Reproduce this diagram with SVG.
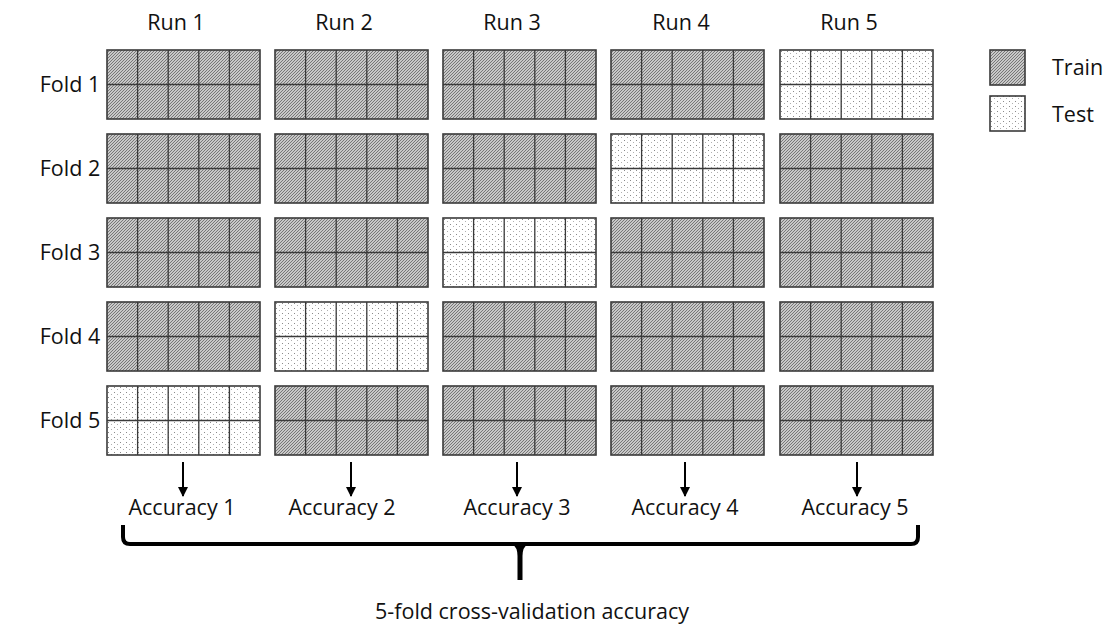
<svg xmlns="http://www.w3.org/2000/svg" xmlns:xlink="http://www.w3.org/1999/xlink" width="1105" height="630" viewBox="0 0 1105 630">
  <defs>
    <style>
      .lbl { font-family: "Open Sans", "Liberation Sans", sans-serif; font-size: 21.5px; fill: #111; }
      .mid { text-anchor: middle; }
      .train { fill: url(#hatch); }
      .test { fill: url(#dots); }
      .frame { fill: none; stroke: #3a3a3a; stroke-width: 1.6; }
      .cell { stroke: #3a3a3a; stroke-width: 1.3; fill: none; }
      .arrow { stroke: #000; stroke-width: 2; fill: none; marker-end: url(#head); }
      .brace { stroke: #000; stroke-width: 4; fill: none; stroke-linejoin: round; }
    </style>
    <!-- dense diagonal hatching for training folds -->
    <pattern id="hatch" patternUnits="userSpaceOnUse" width="3" height="3">
      <rect width="3" height="3" fill="#c8c8c8"/>
      <path d="M-1,1 L1,-1 M0,3 L3,0 M2,4 L4,2" stroke="#777" stroke-width="1"/>
    </pattern>
    <!-- sparse dot stipple for test folds -->
    <pattern id="dots" patternUnits="userSpaceOnUse" width="6" height="5">
      <rect width="6" height="5" fill="#fff"/>
      <rect x="1" y="1" width="1" height="1" fill="#8a8a8a"/>
      <rect x="4" y="3" width="1" height="1" fill="#b0b0b0"/>
    </pattern>
    <marker id="head" viewBox="0 0 10 10" refX="9" refY="5" markerWidth="5" markerHeight="5" orient="auto" markerUnits="strokeWidth">
      <path d="M0,0 L10,5 L0,10 Z" fill="#000"/>
    </marker>
    <!-- 5 x 2 cell grid of one data block -->
    <g id="grid">
      <path class="cell" d="M30.6,0 V69 M61.2,0 V69 M91.8,0 V69 M122.4,0 V69 M0,34.5 H153"/>
      <rect class="frame" x="0" y="0" width="153" height="69"/>
    </g>
  </defs>

  <rect width="1105" height="630" fill="#fff"/>

  <!-- column headings -->
  <g id="run-labels">
    <text class="lbl mid" x="176" y="30">Run 1</text>
    <text class="lbl mid" x="344" y="30">Run 2</text>
    <text class="lbl mid" x="512" y="30">Run 3</text>
    <text class="lbl mid" x="681" y="30">Run 4</text>
    <text class="lbl mid" x="849" y="30">Run 5</text>
  </g>

  <!-- row headings -->
  <g id="fold-labels">
    <text class="lbl mid" x="70" y="92">Fold 1</text>
    <text class="lbl mid" x="70" y="176">Fold 2</text>
    <text class="lbl mid" x="70" y="260">Fold 3</text>
    <text class="lbl mid" x="70" y="344">Fold 4</text>
    <text class="lbl mid" x="70" y="428">Fold 5</text>
  </g>

  <!-- Run 1 -->
  <g id="run1-fold1" transform="translate(107,50)"><rect class="train" width="153" height="69"/><use xlink:href="#grid"/></g>
  <g id="run1-fold2" transform="translate(107,134)"><rect class="train" width="153" height="69"/><use xlink:href="#grid"/></g>
  <g id="run1-fold3" transform="translate(107,218)"><rect class="train" width="153" height="69"/><use xlink:href="#grid"/></g>
  <g id="run1-fold4" transform="translate(107,302)"><rect class="train" width="153" height="69"/><use xlink:href="#grid"/></g>
  <g id="run1-fold5" transform="translate(107,386)"><rect class="test" width="153" height="69"/><use xlink:href="#grid"/></g>

  <!-- Run 2 -->
  <g id="run2-fold1" transform="translate(275,50)"><rect class="train" width="153" height="69"/><use xlink:href="#grid"/></g>
  <g id="run2-fold2" transform="translate(275,134)"><rect class="train" width="153" height="69"/><use xlink:href="#grid"/></g>
  <g id="run2-fold3" transform="translate(275,218)"><rect class="train" width="153" height="69"/><use xlink:href="#grid"/></g>
  <g id="run2-fold4" transform="translate(275,302)"><rect class="test" width="153" height="69"/><use xlink:href="#grid"/></g>
  <g id="run2-fold5" transform="translate(275,386)"><rect class="train" width="153" height="69"/><use xlink:href="#grid"/></g>

  <!-- Run 3 -->
  <g id="run3-fold1" transform="translate(443,50)"><rect class="train" width="153" height="69"/><use xlink:href="#grid"/></g>
  <g id="run3-fold2" transform="translate(443,134)"><rect class="train" width="153" height="69"/><use xlink:href="#grid"/></g>
  <g id="run3-fold3" transform="translate(443,218)"><rect class="test" width="153" height="69"/><use xlink:href="#grid"/></g>
  <g id="run3-fold4" transform="translate(443,302)"><rect class="train" width="153" height="69"/><use xlink:href="#grid"/></g>
  <g id="run3-fold5" transform="translate(443,386)"><rect class="train" width="153" height="69"/><use xlink:href="#grid"/></g>

  <!-- Run 4 -->
  <g id="run4-fold1" transform="translate(611,50)"><rect class="train" width="153" height="69"/><use xlink:href="#grid"/></g>
  <g id="run4-fold2" transform="translate(611,134)"><rect class="test" width="153" height="69"/><use xlink:href="#grid"/></g>
  <g id="run4-fold3" transform="translate(611,218)"><rect class="train" width="153" height="69"/><use xlink:href="#grid"/></g>
  <g id="run4-fold4" transform="translate(611,302)"><rect class="train" width="153" height="69"/><use xlink:href="#grid"/></g>
  <g id="run4-fold5" transform="translate(611,386)"><rect class="train" width="153" height="69"/><use xlink:href="#grid"/></g>

  <!-- Run 5 -->
  <g id="run5-fold1" transform="translate(780,50)"><rect class="test" width="153" height="69"/><use xlink:href="#grid"/></g>
  <g id="run5-fold2" transform="translate(780,134)"><rect class="train" width="153" height="69"/><use xlink:href="#grid"/></g>
  <g id="run5-fold3" transform="translate(780,218)"><rect class="train" width="153" height="69"/><use xlink:href="#grid"/></g>
  <g id="run5-fold4" transform="translate(780,302)"><rect class="train" width="153" height="69"/><use xlink:href="#grid"/></g>
  <g id="run5-fold5" transform="translate(780,386)"><rect class="train" width="153" height="69"/><use xlink:href="#grid"/></g>

  <!-- legend -->
  <g id="legend-train">
    <rect class="train" x="990" y="50" width="35" height="35"/>
    <rect class="frame" x="990" y="50" width="35" height="35"/>
    <text class="lbl" x="1052" y="75">Train</text>
  </g>
  <g id="legend-test">
    <rect class="test" x="990" y="96" width="35" height="35"/>
    <rect class="frame" x="990" y="96" width="35" height="35"/>
    <text class="lbl" x="1052" y="122">Test</text>
  </g>

  <!-- per-run accuracies -->
  <g id="accuracy-1"><text class="lbl mid" x="182" y="515">Accuracy 1</text></g>
  <g id="accuracy-2"><text class="lbl mid" x="342" y="515">Accuracy 2</text></g>
  <g id="accuracy-3"><text class="lbl mid" x="517" y="515">Accuracy 3</text></g>
  <g id="accuracy-4"><text class="lbl mid" x="685" y="515">Accuracy 4</text></g>
  <g id="accuracy-5"><text class="lbl mid" x="855" y="515">Accuracy 5</text></g>

  <g id="result"><text class="lbl mid" x="532" y="619">5-fold cross-validation accuracy</text></g>

  <!-- connectors: run arrows and summary brace -->
  <g id="connectors">
    <line class="arrow" x1="183" y1="462" x2="183" y2="496"/>
    <line class="arrow" x1="351" y1="462" x2="351" y2="496"/>
    <line class="arrow" x1="517" y1="462" x2="517" y2="496"/>
    <line class="arrow" x1="685" y1="462" x2="685" y2="496"/>
    <line class="arrow" x1="857" y1="462" x2="857" y2="496"/>
    <path class="brace" d="M123,525 V537 Q123,544 130,544 H911 Q918,544 918,537 V525"/>
    <path d="M517.5,580 V556 Q517.5,547 512,544 H528 Q522.5,547 522.5,556 V580 Z" fill="#000"/>
  </g>
</svg>
